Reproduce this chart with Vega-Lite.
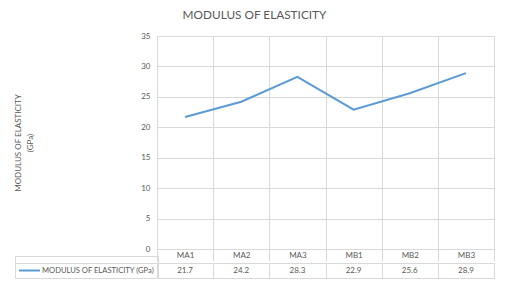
{
  "$schema": "https://vega.github.io/schema/vega-lite/v6.json",
  "padding": {"left": 14, "top": 9, "right": 5, "bottom": 0},
  "background": "white",
  "title": {"text": "MODULUS OF ELASTICITY", "fontSize": 11.8, "font": "Lato", "fontWeight": "normal", "color": "#595959", "anchor": "middle", "offset": 10},
  "data": {"values": [
    {"sample": "MA1", "value": 21.7, "series": "MODULUS OF ELASTICITY (GPa)"},
    {"sample": "MA2", "value": 24.2, "series": "MODULUS OF ELASTICITY (GPa)"},
    {"sample": "MA3", "value": 28.3, "series": "MODULUS OF ELASTICITY (GPa)"},
    {"sample": "MB1", "value": 22.9, "series": "MODULUS OF ELASTICITY (GPa)"},
    {"sample": "MB2", "value": 25.6, "series": "MODULUS OF ELASTICITY (GPa)"},
    {"sample": "MB3", "value": 28.9, "series": "MODULUS OF ELASTICITY (GPa)"}
  ]},
  "spacing": 0,
  "resolve": {"scale": {"x": "independent", "y": "independent"}},
  "vconcat": [
    {
      "width": 337,
      "height": 213,
      "mark": {"type": "line", "strokeWidth": 2},
      "encoding": {
        "x": {"field": "sample", "type": "nominal", "sort": null,
              "scale": {"paddingInner": 0, "paddingOuter": 0},
              "axis": {"title": null, "tickBand": "extent", "tickSize": 12, "labelPadding": -6, "labelBaseline": "middle", "labelAngle": 0, "grid": true}},
        "y": {"field": "value", "type": "quantitative",
              "scale": {"domain": [0, 35], "nice": false},
              "axis": {"values": [0, 5, 10, 15, 20, 25, 30, 35], "title": ["MODULUS OF ELASTICITY", "(GPa)"], "titleLineHeight": 12, "titlePadding": 106, "labelPadding": 7, "ticks": false, "domain": false}},
        "color": {"field": "series", "type": "nominal", "scale": {"range": ["#5b9bd5"]},
                  "legend": {"orient": "none", "legendX": -142, "legendY": 220, "title": null, "symbolType": "stroke", "symbolSize": 441, "symbolStrokeWidth": 2, "labelFont": "Lato", "labelFontSize": 7.6, "labelColor": "#595959", "labelOffset": 1, "padding": 3, "strokeColor": "#d9d9d9"}}
      }
    },
    {
      "width": 337,
      "height": 15,
      "mark": {"type": "text", "fontSize": 8, "font": "Lato", "color": "#595959"},
      "encoding": {
        "x": {"field": "sample", "type": "nominal", "sort": null,
              "scale": {"paddingInner": 0, "paddingOuter": 0},
              "axis": {"title": null, "labels": false, "ticks": false, "domain": false, "grid": true, "tickBand": "extent"}},
        "y": {"field": "series", "type": "nominal",
              "scale": {"paddingInner": 0, "paddingOuter": 0},
              "axis": {"title": null, "labels": false, "domain": false, "grid": false, "tickBand": "extent", "tickSize": 142}},
        "text": {"field": "value", "type": "quantitative", "format": ".1f"}
      }
    }
  ],
  "config": {
    "view": {"stroke": "#d9d9d9"},
    "axis": {"labelFont": "Lato", "labelFontSize": 8, "labelColor": "#595959", "titleFont": "Lato", "titleFontSize": 8, "titleFontWeight": "normal", "titleColor": "#595959", "gridColor": "#d9d9d9", "tickColor": "#d9d9d9", "domainColor": "#d9d9d9"}
  }
}
